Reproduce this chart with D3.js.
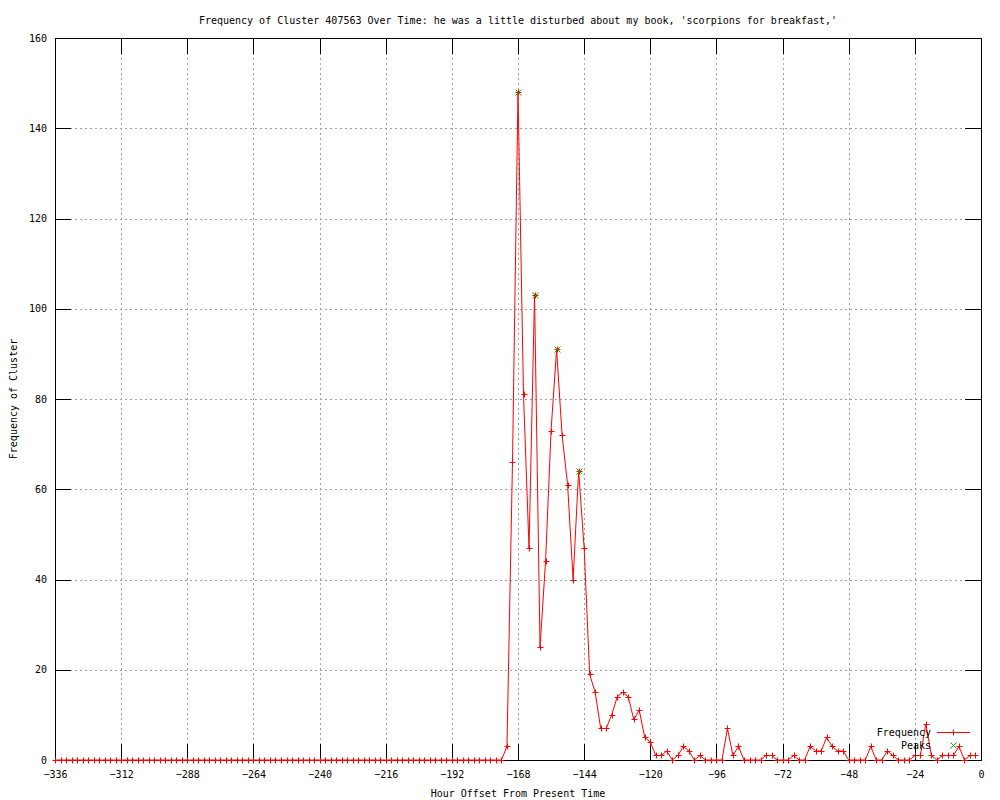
<!DOCTYPE html>
<html>
<head>
<meta charset="utf-8">
<script src="https://cdn.jsdelivr.net/npm/d3@7"></script>
<style>
  html, body { margin: 0; padding: 0; background: #fff; }
  svg { display: block; }
  text { font-family: "DejaVu Sans Mono", "Liberation Mono", monospace; font-size: 10px; fill: #000; }
</style>
</head>
<body>
<svg id="chart" width="1000" height="800"></svg>
<script>
// ---- data (hourly offsets, sampled every 2 hours) ----
const hours = d3.range(-336, 0, 2);
const frequency = [
  0,0,0,0,0,0,0,0,0,0, 0,0,0,0,0,0,0,0,0,0,
  0,0,0,0,0,0,0,0,0,0, 0,0,0,0,0,0,0,0,0,0,
  0,0,0,0,0,0,0,0,0,0, 0,0,0,0,0,0,0,0,0,0,
  0,0,0,0,0,0,0,0,0,0, 0,0,0,0,0,0,0,0,0,0,
  0,0,
  3,66,148,81,47,103,25,44,73,91,
  72,61,40,64,47,19,15,7,7,10,
  14,15,14,9,11,5,4,1,1,2,
  0,1,3,2,0,1,0,0,0,0,
  7,1,3,0,0,0,0,1,1,0,
  0,0,1,0,0,3,2,2,5,3,
  2,2,0,0,0,0,3,0,0,2,
  1,0,0,0,1,1,8,1,0,1,
  1,1,3,0,1,1
];
const peakHours = [-168, -162, -154, -146];
const peakValues = [148, 103, 91, 64];
const xTickValues = [-336,-312,-288,-264,-240,-216,-192,-168,-144,-120,-96,-72,-48,-24,0];
const yTickValues = [0,20,40,60,80,100,120,140,160];
const titleText = "Frequency of Cluster 407563 Over Time: he was a little disturbed about my book, 'scorpions for breakfast,'";
const xLabel = "Hour Offset From Present Time";
const yLabel = "Frequency of Cluster";
const seriesNames = ["Frequency", "Peaks"];

// ---- layout ----
const L = 55, R = 981, T = 38, B = 760;
const TICK = 16;
const svg = d3.select("#chart");
const x = d3.scaleLinear().domain([-336, 0]).range([L, R]);
const y = d3.scaleLinear().domain([0, 160]).range([B, T]);

// grid
const grid = svg.append("g").attr("stroke", "#a0a0a0").attr("stroke-width", 1)
  .attr("stroke-dasharray", "2,3").attr("shape-rendering", "crispEdges");
grid.selectAll("line.v").data(xTickValues.slice(1, -1)).enter().append("line")
  .attr("x1", d => Math.round(x(d)) + 0.5).attr("x2", d => Math.round(x(d)) + 0.5)
  .attr("y1", T).attr("y2", B);
grid.selectAll("line.h").data(yTickValues.slice(1, -1)).enter().append("line")
  .attr("x1", L).attr("x2", R)
  .attr("y1", d => Math.round(y(d)) + 0.5).attr("y2", d => Math.round(y(d)) + 0.5);

// axes
function styleAxis(g) {
  g.select(".domain").remove();
  g.selectAll("line").attr("stroke", "#000").attr("shape-rendering", "crispEdges");
  g.selectAll("text").attr("font-family", "DejaVu Sans Mono, monospace").attr("font-size", 10).attr("fill", "#000");
}
svg.append("g").attr("transform", `translate(0,${B})`)
  .call(d3.axisBottom(x).tickValues(xTickValues).tickSizeInner(-TICK).tickSizeOuter(0).tickPadding(11).tickFormat(d3.format("d")))
  .call(styleAxis);
svg.append("g").attr("transform", `translate(0,${T})`)
  .call(d3.axisTop(x).tickValues(xTickValues).tickSizeInner(-TICK).tickSizeOuter(0).tickFormat(""))
  .call(styleAxis);
svg.append("g").attr("transform", `translate(${L},0)`)
  .call(d3.axisLeft(y).tickValues(yTickValues).tickSizeInner(-TICK).tickSizeOuter(0).tickPadding(8).tickFormat(d3.format("d")))
  .call(styleAxis);
svg.append("g").attr("transform", `translate(${R},0)`)
  .call(d3.axisRight(y).tickValues(yTickValues).tickSizeInner(-TICK).tickSizeOuter(0).tickFormat(""))
  .call(styleAxis);

// frame
svg.append("rect").attr("x", L + 0.5).attr("y", T + 0.5).attr("width", R - L).attr("height", B - T)
  .attr("fill", "none").attr("stroke", "#000").attr("stroke-width", 1).attr("shape-rendering", "crispEdges");

// series
const pts = hours.map((h, i) => [h, frequency[i]]);
const line = d3.line().x(d => x(d[0])).y(d => y(d[1]));
svg.append("path").datum(pts).attr("d", line).attr("fill", "none").attr("stroke", "#ff0000").attr("stroke-width", 1);
const plus = "M-3,0H3M0,-3V3";
const cross = "M-3,-3L3,3M-3,3L3,-3";
svg.append("g").selectAll("path").data(pts).enter().append("path")
  .attr("transform", d => `translate(${Math.round(x(d[0])) + 0.5},${Math.round(y(d[1])) + 0.5})`)
  .attr("d", plus).attr("stroke", "#ff0000").attr("stroke-width", 1).attr("fill", "none");
svg.append("g").selectAll("path").data(peakHours).enter().append("path")
  .attr("transform", (d, i) => `translate(${Math.round(x(d)) + 0.5},${Math.round(y(peakValues[i])) + 0.5})`)
  .attr("d", cross).attr("stroke", "#00c000").attr("stroke-width", 1).attr("fill", "none");

// legend
const lg = svg.append("g");
lg.append("text").attr("x", 931).attr("y", 736).attr("text-anchor", "end").text(seriesNames[0]);
lg.append("line").attr("x1", 937).attr("x2", 970).attr("y1", 732.5).attr("y2", 732.5)
  .attr("stroke", "#ff0000").attr("stroke-width", 1);
lg.append("path").attr("transform", "translate(953.5,732.5)").attr("d", plus).attr("stroke", "#ff0000");
lg.append("text").attr("x", 931).attr("y", 749).attr("text-anchor", "end").text(seriesNames[1]);
lg.append("path").attr("transform", "translate(953.5,745.5)").attr("d", cross).attr("stroke", "#00c000");

// titles
svg.append("text").attr("x", 518).attr("y", 24).attr("text-anchor", "middle").text(titleText);
svg.append("text").attr("x", 518).attr("y", 797).attr("text-anchor", "middle").text(xLabel);
svg.append("text").attr("transform", "translate(17,399) rotate(-90)").attr("text-anchor", "middle").text(yLabel);
</script>
</body>
</html>
